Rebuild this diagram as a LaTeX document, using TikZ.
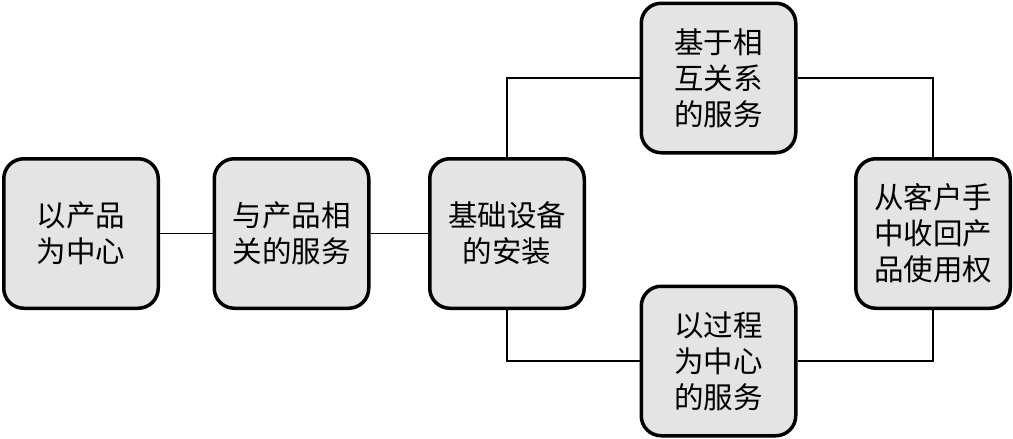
\documentclass[tikz,border=0pt]{standalone}
\usepackage{fontspec}
\newfontfamily\cjk{Noto Sans CJK SC}
\definecolor{boxfill}{HTML}{E4E4E4}
\begin{document}
\begin{tikzpicture}[x=1pt,y=-1pt,
  box/.style={draw=black,fill=boxfill,line width=3.5pt,rounded corners=20pt,
    minimum width=154.5pt,minimum height=149.5pt,inner sep=0pt,align=center,
    font=\cjk\fontsize{29.5}{36}\selectfont},
  conn/.style={draw=black,line width=1.5pt}]
\useasboundingbox (0,0) rectangle (1013,439);
\node[box] (b1) at (81,233.5) {以产品\\为中心};
\node[box] (b2) at (291.5,233.5) {与产品相\\关的服务};
\node[box] (b3) at (507,233.5) {基础设备\\的安装};
\node[box] (top) at (718.5,78) {基于相\\互关系\\的服务};
\node[box] (bot) at (718.5,361) {以过程\\为中心\\的服务};
\node[box] (rt) at (933,233.5) {从客户手\\中收回产\\品使用权};
\draw[conn] (b1) -- (b2);
\draw[conn] (b2) -- (b3);
\draw[conn] (b3.north) |- (top.west);
\draw[conn] (top.east) -| (rt.north);
\draw[conn] (b3.south) |- (bot.west);
\draw[conn] (bot.east) -| (rt.south);
\end{tikzpicture}
\end{document}
